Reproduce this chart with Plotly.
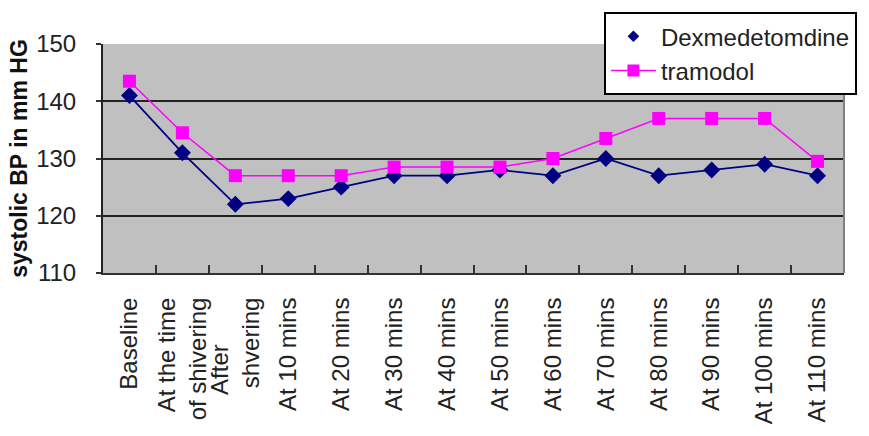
import plotly.graph_objects as go

# Time points of measurement
categories = [
    "Baseline",
    "At the time<br>of shivering",
    "After\u00a0\u00a0\u00a0\u00a0\u00a0\u00a0\u00a0<br>shvering",
    "At 10 mins", "At 20 mins", "At 30 mins", "At 40 mins", "At 50 mins",
    "At 60 mins", "At 70 mins", "At 80 mins", "At 90 mins", "At 100 mins",
    "At 110 mins",
]

# Systolic BP (mm Hg) for each group
dexmedetomidine = [141, 131, 122, 123, 125, 127, 127, 128, 127, 130, 127, 128, 129, 127]
tramadol = [143.5, 134.5, 127, 127, 127, 128.5, 128.5, 128.5, 130, 133.5, 137, 137, 137, 129.5]

y_ticks = [110, 120, 130, 140, 150]

FONT = "Liberation Sans, Arial, sans-serif"
NAVY = "#000080"
MAGENTA = "#ff00ff"

fig = go.Figure()

fig.add_trace(go.Scatter(
    x=categories, y=dexmedetomidine, mode="lines+markers",
    line=dict(color=NAVY, width=1.8),
    marker=dict(symbol="diamond", size=13, color=NAVY),
    showlegend=False,
))
fig.add_trace(go.Scatter(
    x=categories, y=tramadol, mode="lines+markers",
    line=dict(color=MAGENTA, width=1.5),
    marker=dict(symbol="square", size=13, color=MAGENTA),
    showlegend=False,
))

# Legend entries
fig.add_trace(go.Scatter(
    x=[None], y=[None], mode="markers", name="Dexmedetomdine",
    marker=dict(symbol="diamond", size=9, color=NAVY),
))
fig.add_trace(go.Scatter(
    x=[None], y=[None], mode="lines+markers", name="tramodol",
    line=dict(color=MAGENTA, width=1.5),
    marker=dict(symbol="square", size=12, color=MAGENTA),
))

fig.update_layout(
    width=869, height=436,
    margin=dict(l=103, r=13, t=43, b=163),
    paper_bgcolor="white",
    plot_bgcolor="#c0c0c0",
    font=dict(family=FONT, size=24, color="#222222"),
    legend=dict(
        x=0.676, y=1.139, xanchor="left", yanchor="top",
        bgcolor="white", bordercolor="black", borderwidth=2,
        font=dict(size=24, color="#222222"),
        itemwidth=45, tracegroupgap=0,
    ),
)

fig.update_xaxes(
    type="category",
    range=[-0.5, len(categories) - 0.5],
    tickangle=-90,
    ticks="inside", ticklen=8, tickwidth=2, tickcolor="#333333",
    tickson="boundaries",
    showgrid=False,
    showline=True, linecolor="#333333", linewidth=2,
    mirror=False,
    ticklabelstandoff=13,
    tickfont=dict(size=24, color="#222222"),
)

fig.update_yaxes(
    range=[110, 150],
    tickvals=y_ticks,
    ticks="outside", ticklen=5, tickwidth=2, tickcolor="#333333",
    showgrid=True, gridcolor="#222222", gridwidth=2,
    showline=True, linecolor="#222222", linewidth=2,
    ticklabelstandoff=15,
    tickfont=dict(size=24, color="#222222"),
    title=dict(text="<b>systolic BP in mm HG</b>", font=dict(size=23, color="#111111"), standoff=2),
    zeroline=False,
)

# right border of the plot area
fig.add_shape(type="line", xref="paper", yref="paper", x0=1, x1=1, y0=0, y1=1,
              line=dict(color="#808080", width=2))

fig.write_html("out.html")
